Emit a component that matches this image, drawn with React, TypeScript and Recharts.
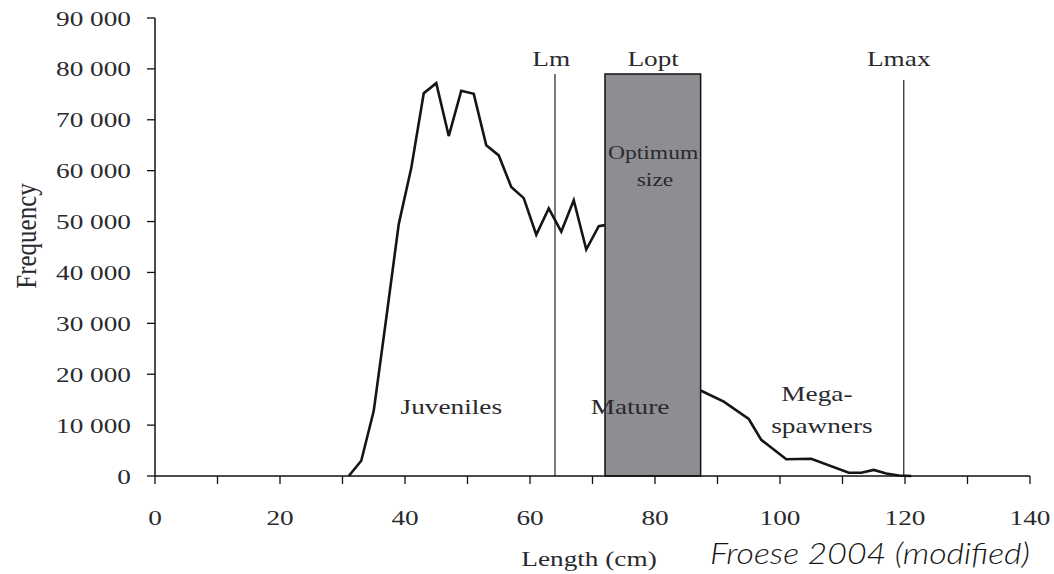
import React from "react";
import {
  LineChart,
  Line,
  XAxis,
  YAxis,
  ReferenceArea,
  ReferenceLine,
  ReferenceDot,
} from "recharts";

// length-frequency curve, split where the optimum-size box hides it
const juvLengths = [31, 33, 35, 37, 39, 41, 43, 45, 47, 49, 51, 53, 55, 57, 59, 61, 63, 65, 67, 69, 71, 72];
const juvFreq = [0, 3000, 12800, 31000, 49500, 60500, 75200, 77200, 66800, 75700, 75100, 65000, 63000, 56800, 54600, 47400, 52600, 48000, 54200, 44500, 49100, 49300];
const bigLengths = [87.3, 91, 95, 97, 101, 105, 111, 113, 115, 117, 119, 121];
const bigFreq = [16800, 14600, 11200, 7100, 3300, 3400, 650, 650, 1200, 500, 100, 0];

const xTicks = [0, 10, 20, 30, 40, 50, 60, 70, 80, 90, 100, 110, 120, 130, 140];
const yTicks = [0, 10000, 20000, 30000, 40000, 50000, 60000, 70000, 80000, 90000];

// Lm, Lmax markers and the Lopt box
const lm = 64;
const lmTop = 79000;
const lmax = 119.8;
const lmaxTop = 77800;
const loptFrom = 72;
const loptTo = 87.3;
const loptTop = 79000;

// text annotations (data coordinates)
const noteTexts = ["Lm", "Lopt", "Lmax", "Optimum", "size", "Juveniles", "Mature", "Mega-", "spawners"];
const noteX = [63.4, 79.7, 119.0, 79.7, 80.0, 47.4, 76.0, 105.9, 106.7];
const noteY = [82100, 82100, 82100, 63500, 58200, 13600, 13600, 16300, 10000];
const noteSize = [22, 22, 22, 19, 19, 22, 22, 22, 22];

const juvData = juvLengths.map((len, i) => ({ len, freq: juvFreq[i] }));
const bigData = bigLengths.map((len, i) => ({ len, freq: bigFreq[i] }));

const SERIF = "'Liberation Serif', 'Times New Roman', serif";
const SX = 1.24;
const INK = "#2a2a2e";

function Txt({ x, y, children, size = 22, anchor = "middle" }: any) {
  return (
    <text
      transform={`translate(${x},${y}) scale(${SX},1)`}
      textAnchor={anchor}
      dominantBaseline="central"
      fontFamily={SERIF}
      fontSize={size}
      fontWeight={400}
      fill={INK}
    >
      {children}
    </text>
  );
}

function fmt(v: number) {
  return String(v).replace(/\B(?=(\d{3})+(?!\d))/g, " ");
}

function XTick({ x, y, payload }: any) {
  if (payload.value % 20 !== 0) return <g />;
  return (
    <Txt x={x} y={y + 31}>
      {payload.value}
    </Txt>
  );
}

function YTick({ x, y, payload }: any) {
  return (
    <Txt x={x} y={y} anchor="end">
      {fmt(payload.value)}
    </Txt>
  );
}

export default function App() {
  return (
    <div style={{ position: "absolute", left: 0, top: 0, width: 1054, height: 574, background: "#fff" }}>
      <LineChart width={1054} height={574} margin={{ top: 18, right: 24, bottom: 0, left: 0 }}>
        <XAxis
          type="number"
          dataKey="len"
          domain={[0, 140]}
          ticks={xTicks}
          interval={0}
          tickSize={8}
          tickMargin={2}
          height={98}
          tick={<XTick />}
          tickLine={{ stroke: "#111", strokeWidth: 1.3 }}
          axisLine={{ stroke: "#111", strokeWidth: 1.5 }}
          label={(p: any) => (
            <g>
              <Txt x={589} y={558}>
                Length (cm)
              </Txt>
              <text
                x={710}
                y={564}
                textAnchor="start"
                textLength={320}
                lengthAdjust="spacingAndGlyphs"
                fontFamily="Lato, 'Open Sans', sans-serif"
                fontStyle="italic"
                fontWeight={300}
                fontSize={30}
                fill="#151515"
              >
                Froese 2004 (modified)
              </text>
            </g>
          )}
        />
        <YAxis
          type="number"
          domain={[0, 90000]}
          ticks={yTicks}
          interval={0}
          width={155}
          tickSize={8}
          tickMargin={16}
          tick={<YTick />}
          tickLine={{ stroke: "#111", strokeWidth: 1.3 }}
          axisLine={{ stroke: "#111", strokeWidth: 1.5 }}
          label={(p: any) => (
            <text
              transform="translate(26,236) scale(1.2,1) rotate(-90)"
              textAnchor="middle"
              dominantBaseline="central"
              fontFamily={SERIF}
              fontSize={25}
              fill={INK}
            >
              Frequency
            </text>
          )}
        />
        <ReferenceLine
          segment={[{ x: lm, y: 0 }, { x: lm, y: lmTop }]}
          stroke="#333"
          strokeWidth={1.3}
        />
        <ReferenceLine
          segment={[{ x: lmax, y: 0 }, { x: lmax, y: lmaxTop }]}
          stroke="#333"
          strokeWidth={1.3}
        />
        <Line
          data={juvData}
          type="linear"
          dataKey="freq"
          stroke="#151515"
          strokeWidth={2.6}
          dot={false}
          isAnimationActive={false}
        />
        <Line
          data={bigData}
          type="linear"
          dataKey="freq"
          stroke="#151515"
          strokeWidth={2.6}
          dot={false}
          isAnimationActive={false}
        />
        <ReferenceArea
          x1={loptFrom}
          x2={loptTo}
          y1={0}
          y2={loptTop}
          fill="#8e8e92"
          fillOpacity={1}
          stroke="#111"
          strokeWidth={1.5}
        />
        {noteTexts.map((t, i) => (
          <ReferenceDot
            key={t}
            x={noteX[i]}
            y={noteY[i]}
            r={0}
            fill="none"
            stroke="none"
            ifOverflow="visible"
            label={(p: any) => (
              <Txt x={p.viewBox.x} y={p.viewBox.y} size={noteSize[i]}>
                {t}
              </Txt>
            )}
          />
        ))}
      </LineChart>
    </div>
  );
}
